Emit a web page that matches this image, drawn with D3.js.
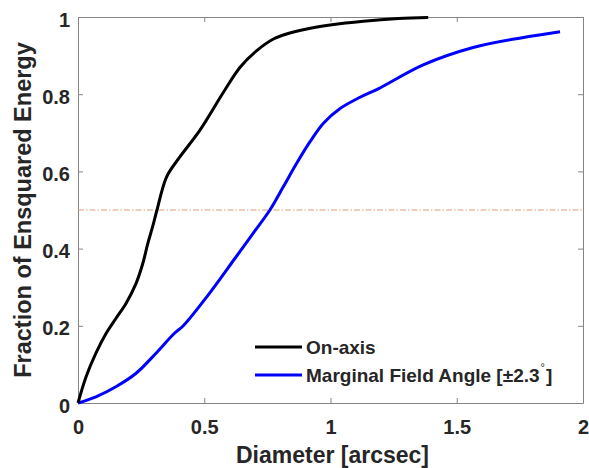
<!DOCTYPE html>
<html>
<head>
<meta charset="utf-8">
<script src="https://cdn.jsdelivr.net/npm/d3@7"></script>
<style>
  body { margin: 0; background: #fff; }
  text { font-family: "Liberation Sans", Arial, sans-serif; font-weight: bold; fill: #262626; }
</style>
</head>
<body>
<div id="chart"></div>
<script>
// on-axis ensquared energy
const onAxisX = [0, 0.032, 0.071, 0.111, 0.15, 0.19, 0.23, 0.256, 0.276, 0.296, 0.312, 0.351, 0.404, 0.483, 0.576, 0.642, 0.708, 0.774, 0.826, 0.906, 0.998, 1.13, 1.269, 1.387];
const onAxisY = [0, 0.068, 0.129, 0.18, 0.219, 0.258, 0.31, 0.36, 0.412, 0.458, 0.498, 0.586, 0.638, 0.707, 0.805, 0.87, 0.913, 0.943, 0.956, 0.969, 0.979, 0.989, 0.996, 0.999];

// marginal field angle
const marginalX = [0, 0.071, 0.15, 0.23, 0.309, 0.381, 0.417, 0.51, 0.622, 0.694, 0.76, 0.813, 0.866, 0.919, 0.972, 1.038, 1.117, 1.189, 1.367, 1.565, 1.764, 1.909];
const marginalY = [0, 0.016, 0.042, 0.077, 0.129, 0.18, 0.2, 0.275, 0.375, 0.44, 0.5, 0.56, 0.621, 0.677, 0.725, 0.763, 0.792, 0.814, 0.876, 0.921, 0.947, 0.962];

const xTicks = [0, 0.5, 1, 1.5, 2];
const yTicks = [0, 0.2, 0.4, 0.6, 0.8, 1];
const refLevel = 0.5;

const width = 589, height = 468;
const margin = { left: 78, right: 6, top: 17, bottom: 65 };

const svg = d3.select("#chart").append("svg")
    .attr("width", width)
    .attr("height", height);

const x = d3.scaleLinear().domain([0, 2]).range([margin.left, width - margin.right]);
const y = d3.scaleLinear().domain([0, 1]).range([height - margin.bottom, margin.top]);

const axisColor = "#858585";

// axes, MATLAB style box with inward ticks
const axBottom = svg.append("g").attr("transform", `translate(0,${y(0)})`)
    .call(d3.axisBottom(x).tickValues(xTicks).tickSizeInner(-5).tickSizeOuter(0).tickPadding(17).tickFormat(d3.format("")));
const axTop = svg.append("g").attr("transform", `translate(0,${y(1)})`)
    .call(d3.axisTop(x).tickValues(xTicks).tickSizeInner(-5).tickSizeOuter(0).tickFormat(""));
const axLeft = svg.append("g").attr("transform", `translate(${x(0)},0)`)
    .call(d3.axisLeft(y).tickValues(yTicks).tickSizeInner(-5).tickSizeOuter(0).tickPadding(8).tickFormat(d3.format("")));
const axRight = svg.append("g").attr("transform", `translate(${x(2)},0)`)
    .call(d3.axisRight(y).tickValues(yTicks).tickSizeInner(-5).tickSizeOuter(0).tickFormat(""));

[axBottom, axTop, axLeft, axRight].forEach(g => {
    g.select(".domain").attr("stroke", axisColor).attr("stroke-width", 1);
    g.selectAll(".tick line").attr("stroke", axisColor);
    g.selectAll(".tick text").style("font-size", "20px").attr("fill", "#262626");
});
axLeft.selectAll(".tick text").attr("dy", "0.45em");

// 50% reference line
svg.append("line")
    .attr("x1", x(0)).attr("x2", x(2))
    .attr("y1", y(refLevel)).attr("y2", y(refLevel))
    .attr("stroke", "#d9a07a")
    .attr("stroke-width", 1)
    .attr("stroke-dasharray", "6,2,1.5,2");

const line = d3.line()
    .x(d => x(d[0]))
    .y(d => y(d[1]))
    .curve(d3.curveCatmullRom.alpha(0.5));

svg.append("path")
    .datum(d3.zip(marginalX, marginalY))
    .attr("fill", "none")
    .attr("stroke", "#0000ff")
    .attr("stroke-width", 3)
    .attr("d", line);

svg.append("path")
    .datum(d3.zip(onAxisX, onAxisY))
    .attr("fill", "none")
    .attr("stroke", "#000")
    .attr("stroke-width", 3)
    .attr("d", line);

// axis titles
svg.append("text")
    .attr("x", (x(0) + x(2)) / 2 + 2)
    .attr("y", 463)
    .attr("text-anchor", "middle")
    .style("font-size", "23px")
    .text("Diameter [arcsec]");

svg.append("text")
    .attr("transform", `translate(31,${(y(0) + y(1)) / 2}) rotate(-90)`)
    .attr("text-anchor", "middle")
    .style("font-size", "23.5px")
    .text("Fraction of Ensquared Energy");

// legend
const legend = svg.append("g");
const items = [
    { label: "On-axis", color: "#000", yPos: 347 },
    { label: "Marginal Field Angle [\u00b12.3", color: "#0000ff", yPos: 375, deg: true }
];
items.forEach(it => {
    legend.append("line")
        .attr("x1", 255).attr("x2", 302)
        .attr("y1", it.yPos).attr("y2", it.yPos)
        .attr("stroke", it.color)
        .attr("stroke-width", 3);
    const t = legend.append("text")
        .attr("x", 306)
        .attr("y", it.yPos + 7)
        .style("font-size", "19px")
        .text(it.label);
    if (it.deg) {
        t.append("tspan").attr("dx", 1).attr("dy", -11).style("font-size", "11px").style("font-weight", "normal").text("\u00b0");
        t.append("tspan").attr("dx", 1).attr("dy", 11).text("]");
    }
});
</script>
</body>
</html>
